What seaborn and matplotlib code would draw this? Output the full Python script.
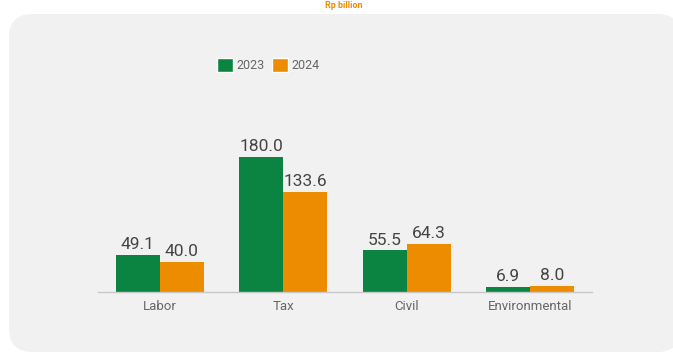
import matplotlib
matplotlib.use("Agg")
import matplotlib.pyplot as plt
from matplotlib.patches import FancyBboxPatch, Patch
import seaborn as sns
import pandas as pd

categories = ["Labor", "Tax", "Civil", "Environmental"]
years = ["2023", "2024"]
values_2023 = [49.1, 180.0, 55.5, 6.9]
values_2024 = [40.0, 133.6, 64.3, 8.0]
unit_label = "Rp billion"

GREEN = "#0a8440"
ORANGE = "#ee8c00"
PANEL = "#f1f1f1"

df = pd.DataFrame({
    "category": categories * 2,
    "year": [years[0]] * len(categories) + [years[1]] * len(categories),
    "value": values_2023 + values_2024,
})

sns.set_theme(style="white")
plt.rcParams["font.family"] = ["Roboto", "DejaVu Sans"]

W, H = 673, 356
fig = plt.figure(figsize=(W / 100, H / 100), dpi=100)
fig.patch.set_facecolor("white")

# rounded grey card behind the chart
card = FancyBboxPatch((9 / W, 4 / H), 672 / W, 338 / H,
                      boxstyle="round,pad=0,rounding_size=0.035",
                      transform=fig.transFigure, facecolor=PANEL,
                      edgecolor="none", zorder=-10, mutation_aspect=W / H)
fig.patches.append(card)

# unit caption above the card
fig.text(344 / W, 1 - 1 / H, unit_label, color=ORANGE, fontsize=6.5,
         fontweight="bold", ha="center", va="top")

ax = fig.add_axes([98 / W, 1 - 292 / H, 494 / W, 150 / H])
ax.set_facecolor("none")
ax.set_zorder(2)
sns.barplot(data=df, x="category", y="value", hue="year", order=categories,
            hue_order=years, palette=[GREEN, ORANGE], width=0.71,
            saturation=1, linewidth=0, ax=ax, legend=False)

for container in ax.containers:
    ax.bar_label(container, fmt="%.1f", padding=2, fontsize=12.5,
                 color="#444444")

ax.set_ylim(0, 200)
ax.set_xlim(-0.5, 3.5)
ax.set_xlabel("")
ax.set_ylabel("")
ax.set_yticks([])
for side in ["top", "left", "right"]:
    ax.spines[side].set_visible(False)
ax.spines["bottom"].set_color("#c8c8c8")
ax.spines["bottom"].set_linewidth(1)
ax.tick_params(axis="x", length=0, pad=6, labelsize=9.5, labelcolor="#666666")

handles = [Patch(facecolor=GREEN, label=years[0]),
           Patch(facecolor=ORANGE, label=years[1])]
fig.legend(handles=handles, loc="center", bbox_to_anchor=(268 / W, 1 - 65 / H),
           ncol=2, frameon=False, fontsize=9, labelcolor="#666666",
           handlelength=1.3, handleheight=1.3, handletextpad=0.25,
           columnspacing=0.6)

fig.savefig("out.png", dpi=100, facecolor="white")
